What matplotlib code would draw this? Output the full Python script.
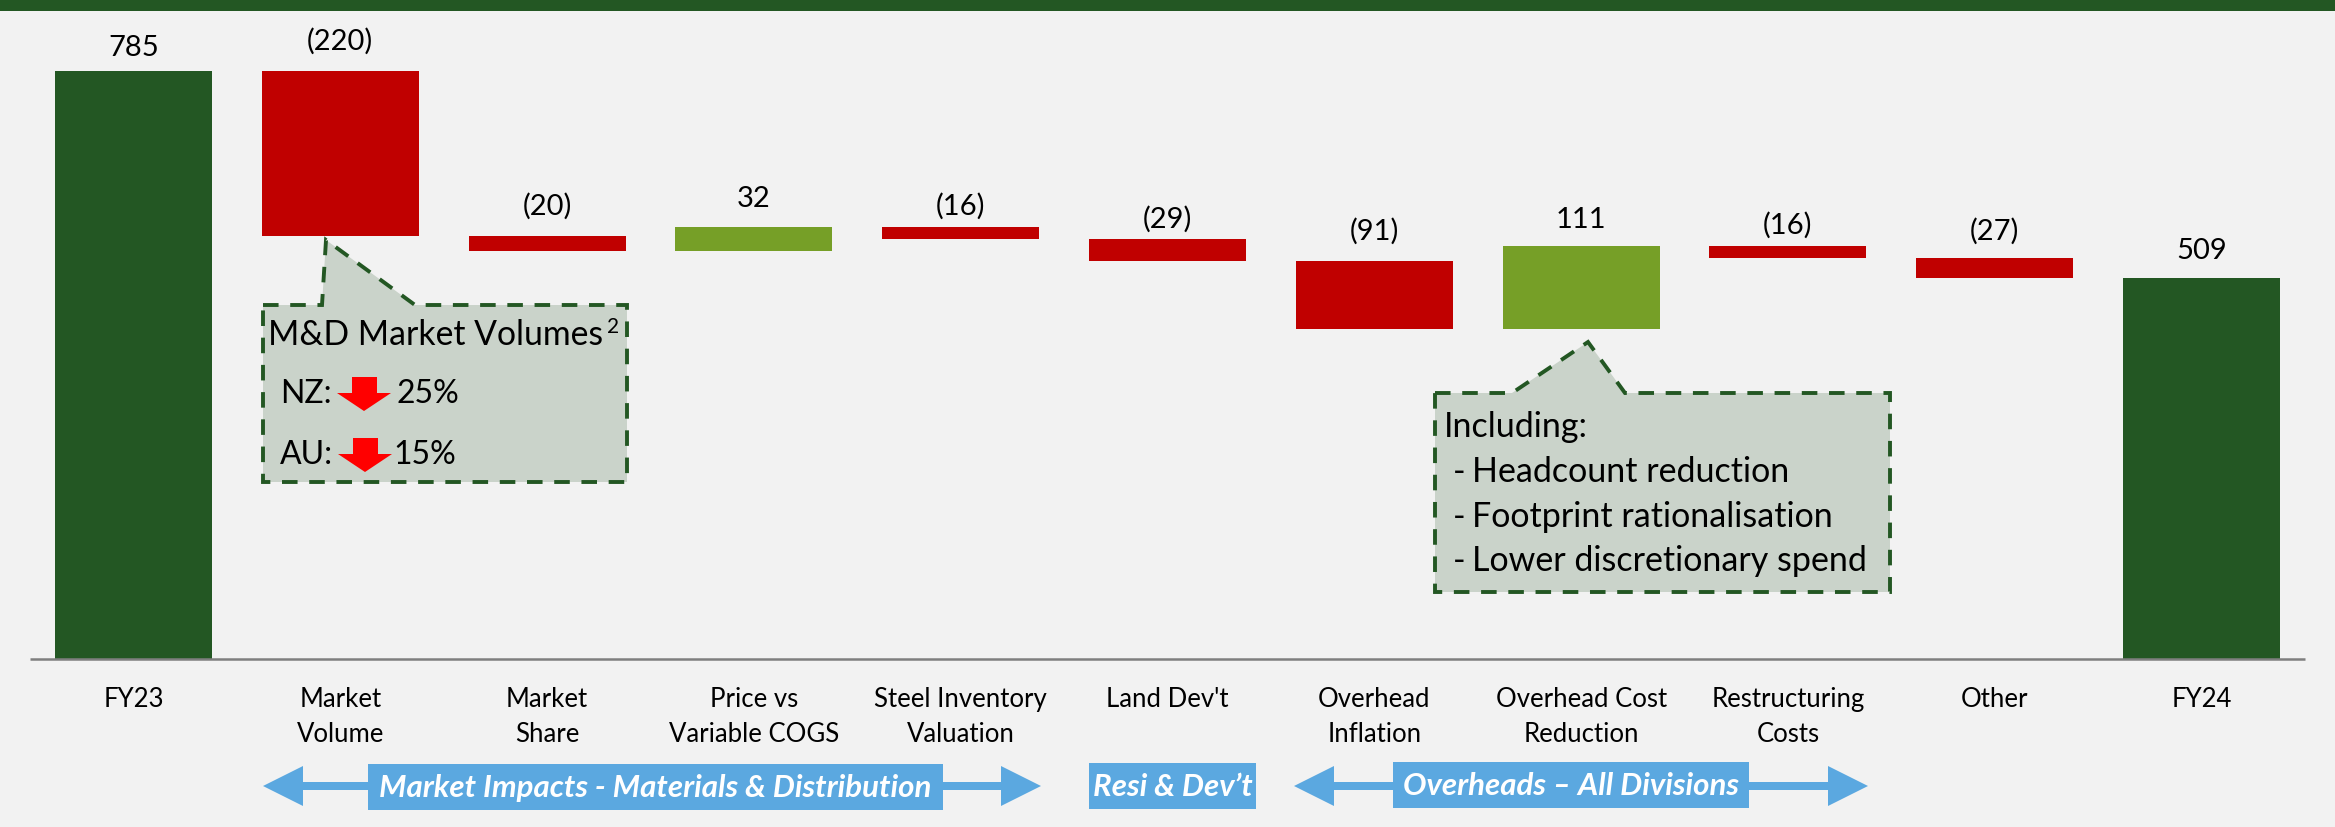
import matplotlib.pyplot as plt
from matplotlib.patches import Polygon, Rectangle

W, H = 2335, 827

categories = ['FY23', 'Market\nVolume', 'Market\nShare', 'Price vs\nVariable COGS',
              'Steel Inventory\nValuation', "Land Dev't", 'Overhead\nInflation',
              'Overhead Cost\nReduction', 'Restructuring\nCosts', 'Other', 'FY24']
values = [785, -220, -20, 32, -16, -29, -91, 111, -16, -27, 509]
is_total = [True, False, False, False, False, False, False, False, False, False, True]
value_labels = ['785', '(220)', '(20)', '32', '(16)', '(29)', '(91)', '111', '(16)', '(27)', '509']
# label heights above the bars, in pixels of the picture
label_gap = [23, 30, 30, 28, 21, 20, 29, 26, 20, 26, 27]

GREEN = '#235723'
RED = '#C00000'
LIGHT_GREEN = '#769F27'
BLUE = '#5BA8E0'
BG = '#F2F2F2'
BOX = '#CAD3CA'

plt.rcParams['font.family'] = ['Lato', 'DejaVu Sans']

fig = plt.figure(figsize=(W / 100, H / 100), dpi=100, facecolor=BG)

# bars: value axis, baseline at y=659px, 0.749 px per unit
PX_PER_UNIT = 0.749
BASE = 659
X0 = 133.5
STEP = 206.8
ax = fig.add_axes([0, 0, 1, 1])
ax.set_xlim(-X0 / STEP, (W - X0) / STEP)
ax.set_ylim(-(H - BASE) / PX_PER_UNIT, BASE / PX_PER_UNIT)
ax.axis('off')

tops = []
running = 0
for i, (v, total) in enumerate(zip(values, is_total)):
    if total:
        bottom, height, color = 0, v, GREEN
        running = v
    else:
        bottom = min(running, running + v)
        height = abs(v)
        color = LIGHT_GREEN if v > 0 else RED
        running += v
    ax.bar(i, height, bottom=bottom, width=0.76, color=color, linewidth=0)
    tops.append(bottom + height)
ax.plot([-0.5, 10.5], [0, 0], color='#7F7F7F', lw=1.8, solid_capstyle='butt')

# overlay in picture pixels for notes and labels
ov = fig.add_axes([0, 0, 1, 1])
ov.set_xlim(0, W)
ov.set_ylim(H, 0)
ov.axis('off')
ov.patch.set_alpha(0)

ov.add_patch(Rectangle((0, 0), W, 11, color=GREEN, lw=0))

for i, (lab, top, gap) in enumerate(zip(value_labels, tops, label_gap)):
    px = X0 + STEP * i
    py = BASE - top * PX_PER_UNIT - gap
    ov.text(px, py, lab, fontsize=21, ha='center', va='center', color='black')
    ov.text(px, 687, categories[i], fontsize=18.5, ha='center', va='top',
            color='black', linespacing=1.48)

dash = (0, (4, 3))
ov.add_patch(Polygon([(263, 305), (322, 305), (326, 240), (415, 305), (627, 305),
                      (627, 482), (263, 482)], closed=True, fc=BOX, ec=GREEN,
                     lw=2.8, ls=dash, joinstyle='miter'))
ov.add_patch(Polygon([(1435, 393), (1512, 393), (1588, 342), (1625, 393), (1890, 393),
                      (1890, 592), (1435, 592)], closed=True, fc=BOX, ec=GREEN,
                     lw=2.8, ls=dash, joinstyle='miter'))

ov.text(268, 335, 'M&D Market Volumes', fontsize=24.3, ha='left', va='center')
ov.text(607, 327, '2', fontsize=15, ha='left', va='center')
ov.text(280, 394, 'NZ:', fontsize=23, ha='left', va='center')
ov.text(397, 394, '25%', fontsize=23, ha='left', va='center')
ov.text(280, 455, 'AU:', fontsize=23, ha='left', va='center')
ov.text(393, 455, '15%', fontsize=23, ha='left', va='center')

for xo, yo in [(337, 377), (338, 438)]:
    ov.add_patch(Polygon([(xo + 15, yo), (xo + 40, yo), (xo + 40, yo + 16), (xo + 54, yo + 16),
                          (xo + 27, yo + 34), (xo, yo + 16), (xo + 15, yo + 16)],
                         closed=True, fc='#FF0000', ec='none'))

ov.text(1444, 427, 'Including:', fontsize=24.5, ha='left', va='center')
for yy, line in zip([472, 517, 561], ['Headcount reduction', 'Footprint rationalisation',
                                      'Lower discretionary spend']):
    ov.text(1453, yy, '-', fontsize=24.5, ha='left', va='center')
    ov.text(1472, yy, line, fontsize=24.5, ha='left', va='center')


def span_arrow(x1, x2, head1, head2, ymid):
    pts = [(x1, ymid), (head1, ymid - 20), (head1, ymid - 4), (head2, ymid - 4),
           (head2, ymid - 20), (x2, ymid), (head2, ymid + 20), (head2, ymid + 4),
           (head1, ymid + 4), (head1, ymid + 20)]
    ov.add_patch(Polygon(pts, closed=True, fc=BLUE, ec='none'))


span_arrow(263, 1041, 303, 1001, 786)
span_arrow(1294, 1868, 1334, 1828, 786)

banners = [(368, 943, 764, 810, 'Market Impacts - Materials & Distribution'),
           (1089, 1256, 763, 809, 'Resi & Dev\u2019t'),
           (1393, 1749, 762, 808, 'Overheads \u2013 All Divisions')]
for x1, x2, y1, y2, txt in banners:
    ov.add_patch(Rectangle((x1, y1), x2 - x1, y2 - y1, fc=BLUE, ec='none'))
    ov.text((x1 + x2) / 2, (y1 + y2) / 2 + 1, txt, fontsize=22.5, ha='center', va='center',
            color='white', fontweight='bold', fontstyle='italic')

fig.savefig('out.png', dpi=100, facecolor=BG)
